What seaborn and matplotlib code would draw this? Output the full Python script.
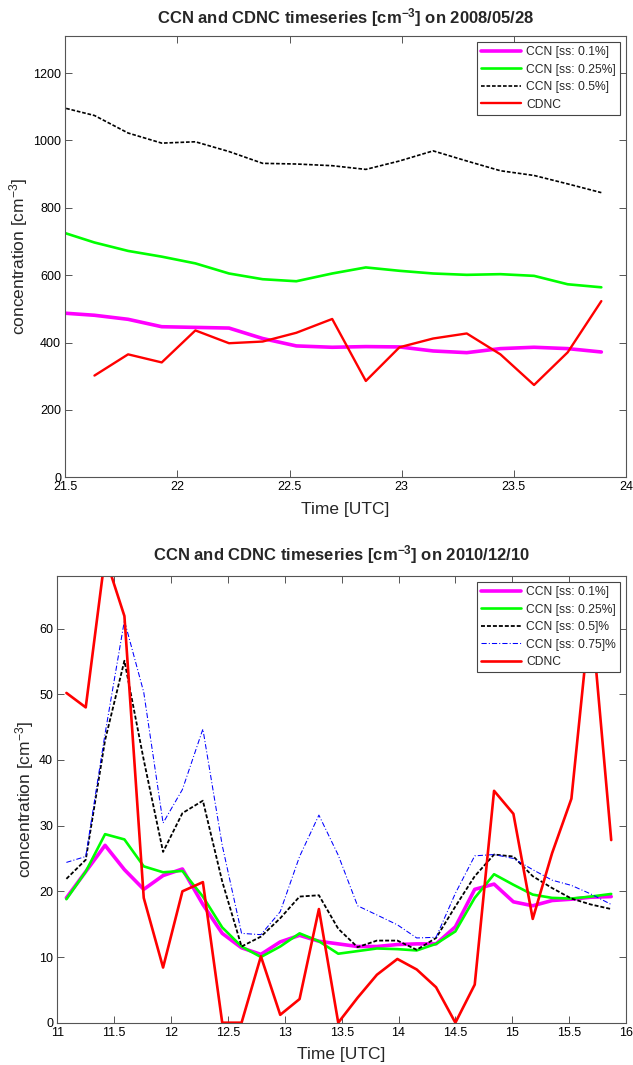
import matplotlib
matplotlib.use("Agg")
import matplotlib.pyplot as plt
import seaborn as sns
import numpy as np

# ---------------- data: 2008/05/28 ----------------
time_ccn_a = [21.48, 21.63, 21.78, 21.93, 22.08, 22.23, 22.38, 22.53, 22.69,
              22.84, 22.99, 23.14, 23.29, 23.44, 23.59, 23.74, 23.89]
time_cdnc_a = [21.63, 21.78, 21.93, 22.08, 22.23, 22.38, 22.53, 22.69,
               22.84, 22.99, 23.14, 23.29, 23.44, 23.59, 23.74, 23.89]
ccn01_a = [488, 481, 469, 447, 445, 443, 412, 390, 386, 388, 387, 375, 370, 382, 386, 382, 372]
ccn025_a = [729, 697, 672, 655, 635, 605, 588, 582, 605, 623, 613, 605, 601, 603, 598, 573, 564]
ccn05_a = [1099, 1074, 1022, 992, 996, 967, 932, 930, 925, 914, 939, 969, 939, 910, 896, 871, 845]
cdnc_a = [302, 365, 341, 436, 398, 403, 429, 470, 286, 386, 412, 427, 365, 274, 371, 523]

# ---------------- data: 2010/12/10 ----------------
time_b = [11.08, 11.25, 11.42, 11.59, 11.76, 11.93, 12.10, 12.28, 12.45, 12.62,
          12.79, 12.96, 13.13, 13.30, 13.47, 13.64, 13.81, 13.99, 14.16, 14.33,
          14.50, 14.67, 14.84, 15.01, 15.18, 15.35, 15.52, 15.69, 15.87]
ccn01_b = [19.0, 23.0, 27.0, 23.3, 20.3, 22.4, 23.4, 18.0, 13.6, 11.4, 10.4, 12.3, 13.3, 12.4,
           12.0, 11.6, 11.6, 11.9, 12.0, 12.0, 14.6, 20.3, 21.1, 18.4, 17.8, 18.6, 18.8, 19.1, 19.2]
ccn025_b = [18.8, 23.0, 28.7, 27.9, 23.8, 22.9, 23.1, 19.2, 14.5, 11.6, 10.0, 11.6, 13.6, 12.4,
            10.5, 10.9, 11.3, 11.2, 11.0, 12.0, 13.9, 19.0, 22.6, 21.0, 19.5, 19.0, 18.9, 19.2, 19.6]
ccn05_b = [21.9, 24.8, 43.0, 55.1, 40.0, 26.0, 31.9, 33.8, 21.5, 11.6, 13.1, 15.9, 19.2, 19.4,
           14.3, 11.5, 12.5, 12.5, 11.1, 12.9, 17.7, 22.3, 25.6, 25.3, 22.3, 20.5, 18.9, 18.0, 17.3]
ccn075_b = [24.4, 25.3, 44.0, 61.2, 50.3, 30.4, 35.5, 44.7, 27.0, 13.6, 13.4, 16.9, 25.3, 31.6,
            25.5, 17.8, 16.4, 14.9, 12.9, 13.0, 19.7, 25.4, 25.6, 25.0, 23.3, 21.7, 20.9, 19.6, 18.0]
cdnc_b = [50.2, 48.0, 71.0, 61.9, 19.0, 8.4, 20.0, 21.4, 0.0, 0.0, 10.1, 1.2, 3.6, 17.3,
          0.0, 3.8, 7.3, 9.7, 8.1, 5.4, 0.0, 5.8, 35.3, 31.8, 15.8, 25.8, 34.1, 63.0, 27.8]

xticks_a = [21.5, 22, 22.5, 23, 23.5, 24]
xticklabels_a = ["21.5", "22", "22.5", "23", "23.5", "24"]
yticks_a = [0, 200, 400, 600, 800, 1000, 1200]
xticks_b = [11, 11.5, 12, 12.5, 13, 13.5, 14, 14.5, 15, 15.5, 16]
xticklabels_b = ["11", "11.5", "12", "12.5", "13", "13.5", "14", "14.5", "15", "15.5", "16"]
yticks_b = [0, 10, 20, 30, 40, 50, 60]

title_a = "CCN and CDNC timeseries [cm$^{-3}$] on 2008/05/28"
title_b = "CCN and CDNC timeseries [cm$^{-3}$] on 2010/12/10"
ylabel = "concentration [cm$^{-3}$]"
xlabel = "Time [UTC]"

sns.set_theme(style="white")
plt.rcParams["font.family"] = ["Liberation Sans", "DejaVu Sans"]
plt.rcParams["mathtext.default"] = "regular"

fig = plt.figure(figsize=(6.33, 10.65), dpi=100)
W, H = 633, 1065
ax1 = fig.add_axes([65.3 / W, 1 - 477.3 / H, (626 - 65.3) / W, (477.3 - 36) / H])
ax2 = fig.add_axes([57.3 / W, 1 - 1022.7 / H, (626 - 57.3) / W, (1022.7 - 576) / H])

MAG, GRN, BLU, RED = "#FF00FF", "#00FF00", "#0000FF", "#FF0000"
dash_k = (0, (2.2, 1.1))
dash_b = (0, (5, 2, 1, 2))

# top panel
sns.lineplot(x=time_ccn_a, y=ccn01_a, ax=ax1, color=MAG, linewidth=2.6, label="CCN [ss: 0.1%]", sort=False, estimator=None)
sns.lineplot(x=time_ccn_a, y=ccn025_a, ax=ax1, color=GRN, linewidth=1.9, label="CCN [ss: 0.25%]", sort=False, estimator=None)
sns.lineplot(x=time_ccn_a, y=ccn05_a, ax=ax1, color="black", linewidth=1.2, linestyle=dash_k, label="CCN [ss: 0.5%]", sort=False, estimator=None)
sns.lineplot(x=time_cdnc_a, y=cdnc_a, ax=ax1, color=RED, linewidth=1.7, label="CDNC", sort=False, estimator=None)

# bottom panel
sns.lineplot(x=time_b, y=ccn01_b, ax=ax2, color=MAG, linewidth=2.6, label="CCN [ss: 0.1%]", sort=False, estimator=None)
sns.lineplot(x=time_b, y=ccn025_b, ax=ax2, color=GRN, linewidth=1.9, label="CCN [ss: 0.25%]", sort=False, estimator=None)
sns.lineplot(x=time_b, y=ccn05_b, ax=ax2, color="black", linewidth=1.3, linestyle=dash_k, label="CCN [ss: 0.5]%", sort=False, estimator=None)
sns.lineplot(x=time_b, y=ccn075_b, ax=ax2, color=BLU, linewidth=0.75, linestyle=dash_b, label="CCN [ss: 0.75]%", sort=False, estimator=None)
sns.lineplot(x=time_b, y=cdnc_b, ax=ax2, color=RED, linewidth=1.9, label="CDNC", sort=False, estimator=None)

def style(ax, xlim, ylim, xt, xtl, yt, title, pad, ylpad):
    ax.set_xlim(*xlim)
    ax.set_ylim(*ylim)
    ax.set_xticks(xt)
    ax.set_xticklabels(xtl)
    ax.set_yticks(yt)
    ax.set_yticklabels([str(v) for v in yt])
    ax.tick_params(direction="in", length=5, width=0.7, colors="#555555",
                   labelcolor="black", labelsize=9, top=True, right=True,
                   bottom=True, left=True, pad=3)
    for sp in ax.spines.values():
        sp.set_color("#555555")
        sp.set_linewidth(0.8)
        sp.set_visible(True)
    ax.set_title(title, fontsize=12, fontweight="bold", pad=pad)
    ax.set_xlabel(xlabel, fontsize=12.5, labelpad=6)
    ax.set_ylabel(ylabel, fontsize=12.5, labelpad=ylpad)
    leg = ax.legend(loc="upper right", fontsize=8.7, frameon=True, fancybox=False,
                    framealpha=1, edgecolor="#444444", borderaxespad=0.5,
                    handlelength=3.3, handletextpad=0.4, labelspacing=0.45,
                    borderpad=0.35)
    leg.get_frame().set_linewidth(0.8)
    leg.set_zorder(10)

style(ax1, (21.5, 24), (0, 1310), xticks_a, xticklabels_a, yticks_a, title_a, 9, 2)
style(ax2, (11, 16), (0, 68), xticks_b, xticklabels_b, yticks_b, title_b, 11, 2)

fig.savefig("out.png", dpi=100, facecolor="white")
